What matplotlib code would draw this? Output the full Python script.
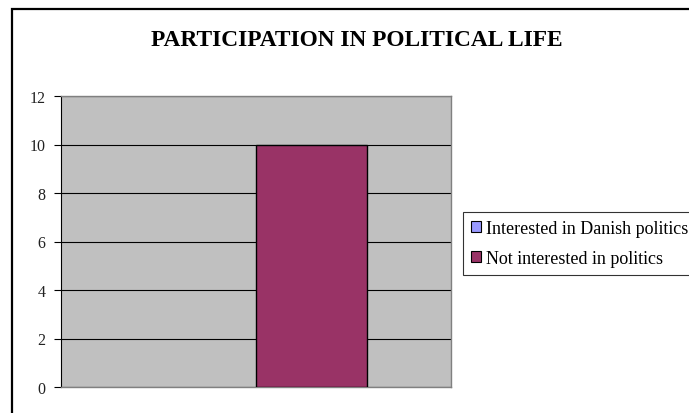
import matplotlib.pyplot as plt
from matplotlib.patches import Rectangle

# chart data
series_names = ['Interested in Danish politics', 'Not interested in politics']
series_values = [0, 10]
series_colors = ['#9999FF', '#993366']
y_ticks = [0, 2, 4, 6, 8, 10, 12]

W, H = 689, 414
fig = plt.figure(figsize=(W / 100, H / 100), dpi=100)

# outer chart border (runs off the right and bottom edges)
fig.patches.append(Rectangle((12 / W, -0.1), 1.2, 1.1 - 10 / H,
                             transform=fig.transFigure, fill=False,
                             edgecolor='black', linewidth=1.6))

ax = fig.add_axes([61 / W, (H - 388) / H, 390 / W, 291 / H])
ax.set_facecolor('#C0C0C0')

# clustered columns, single category, gap width 150%
bar_w = 1 / 3.5
start = -0.5 + 0.75 * bar_w
for i, (name, val, col) in enumerate(zip(series_names, series_values, series_colors)):
    ax.bar(start + bar_w * (i + 0.5), val, width=bar_w, color=col,
           edgecolor='black', linewidth=1.0 if val else 0, label=name,
           zorder=3)

ax.set_xlim(-0.5, 0.5)
ax.set_ylim(0, 12)
ax.set_yticks(y_ticks)
ax.set_xticks([])
ax.yaxis.grid(True, color='black', linewidth=0.8, zorder=1)
ax.set_axisbelow(True)
ax.tick_params(axis='y', direction='out', length=5, width=0.8, pad=6,
               labelsize=11.5, labelcolor='#222222')
for lab in ax.get_yticklabels():
    lab.set_fontfamily('Liberation Serif')

for side in ['top', 'right', 'bottom']:
    ax.spines[side].set_color('#808080')
    ax.spines[side].set_linewidth(1.0)
ax.spines['left'].set_color('black')
ax.spines['left'].set_linewidth(0.8)

fig.text(357 / W, 1 - 40 / H, 'PARTICIPATION IN POLITICAL LIFE',
         ha='center', va='center', fontsize=16.8, fontweight='bold',
         family='Liberation Serif')

# legend handles drawn as square swatches
handles = [Rectangle((0, 0), 1, 1, facecolor=c, edgecolor='black', linewidth=0.8)
           for c in series_colors]
leg = fig.legend(handles, series_names, loc='upper left',
                 bbox_to_anchor=(463 / W, 1 - 213 / H),
                 prop={'family': 'Liberation Serif', 'size': 13},
                 frameon=True, fancybox=False, edgecolor='black',
                 handlelength=0.55, handleheight=0.55, handletextpad=0.3,
                 borderpad=0.45, labelspacing=0.72, borderaxespad=0)
leg.get_frame().set_linewidth(0.8)

fig.savefig('out.png', dpi=100, facecolor='white')
